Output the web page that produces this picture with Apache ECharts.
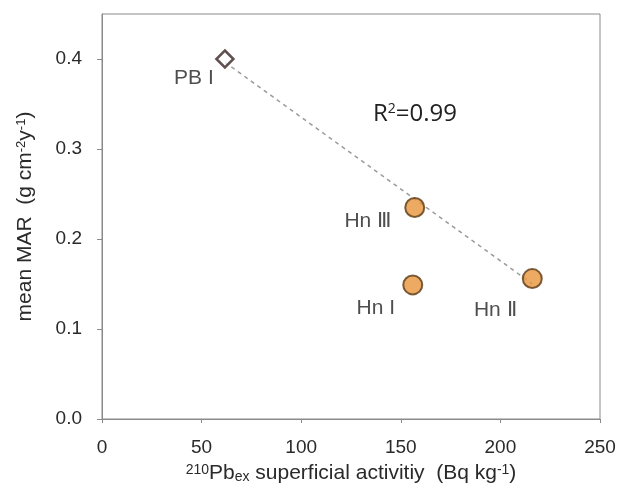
<!DOCTYPE html>
<html>
<head>
<meta charset="utf-8">
<script src="https://cdn.jsdelivr.net/npm/echarts@6/dist/echarts.min.js"></script>
<style>
  html, body { margin: 0; padding: 0; background: #fff; }
  #main { width: 620px; height: 494px; }
</style>
</head>
<body>
<div id="main"></div>
<script>
  // sites, activity (x) and mean MAR (y)
  var siteNames = ['PB I', 'Hn Ⅲ', 'Hn I', 'Hn Ⅱ'];
  var activity = [61.7, 157, 156, 216];
  var meanMAR = [0.400, 0.235, 0.149, 0.156];
  // sites used for the regression line
  var fitSites = ['PB I', 'Hn Ⅲ', 'Hn Ⅱ'];
  var r2Text = '0.99';

  var labelOffsets = {
    'PB I': [-31, 19],
    'Hn Ⅲ': [-47, 14],
    'Hn I': [-37, 23],
    'Hn Ⅱ': [-37, 32]
  };

  // least squares fit
  var fx = [], fy = [];
  siteNames.forEach(function (n, i) {
    if (fitSites.indexOf(n) >= 0) { fx.push(activity[i]); fy.push(meanMAR[i]); }
  });
  var mx = fx.reduce(function (a, b) { return a + b; }, 0) / fx.length;
  var my = fy.reduce(function (a, b) { return a + b; }, 0) / fy.length;
  var sxy = 0, sxx = 0;
  for (var i = 0; i < fx.length; i++) {
    sxy += (fx[i] - mx) * (fy[i] - my);
    sxx += (fx[i] - mx) * (fx[i] - mx);
  }
  var slope = sxy / sxx;
  var icpt = my - slope * mx;
  var x0 = Math.min.apply(null, fx), x1 = Math.max.apply(null, fx);
  var fitLine = [[x0, icpt + slope * x0], [x1, icpt + slope * x1]];

  var circleData = [], diamondData = [];
  siteNames.forEach(function (n, i) {
    var item = {
      name: n,
      value: [activity[i], meanMAR[i]],
      label: { offset: labelOffsets[n] }
    };
    if (n === 'PB I') diamondData.push(item); else circleData.push(item);
  });

  var font = 'Liberation Sans, Arial, sans-serif';
  var labelStyle = {
    show: true,
    position: 'inside',
    formatter: '{b}',
    color: '#222',
    fontSize: 21,
    fontFamily: font
  };

  var myChart = echarts.init(document.getElementById('main'));
  var option = {
    animation: false,
    grid: {
      left: 102,
      right: 20,
      top: 14,
      bottom: 75,
      show: true,
      borderColor: '#8a8a8a',
      borderWidth: 1
    },
    xAxis: {
      type: 'value',
      min: 0,
      max: 250,
      interval: 50,
      splitLine: { show: false },
      axisLine: { lineStyle: { color: '#8a8a8a' } },
      axisTick: { show: true, length: 4, lineStyle: { color: '#8a8a8a' } },
      axisLabel: { color: '#2a2a2a', fontSize: 19, margin: 19, fontFamily: font },
      name: '{sup|210}Pb{sub|ex} superficial activitiy  (Bq kg{sup|-1})',
      nameLocation: 'middle',
      nameGap: 40,
      nameTextStyle: {
        color: '#2a2a2a',
        fontSize: 21,
        fontFamily: font,
        rich: {
          sup: { fontSize: 14, verticalAlign: 'top', lineHeight: 14, color: '#2a2a2a', fontFamily: font, padding: [0, 0, 8, 0] },
          sub: { fontSize: 14, verticalAlign: 'bottom', lineHeight: 14, color: '#2a2a2a', fontFamily: font, padding: [8, 0, 0, 0] }
        }
      }
    },
    yAxis: {
      type: 'value',
      min: 0,
      max: 0.45,
      interval: 0.1,
      splitLine: { show: false },
      axisLine: { show: true, lineStyle: { color: '#8a8a8a' } },
      axisTick: { show: true, length: 5, lineStyle: { color: '#8a8a8a' } },
      axisLabel: {
        color: '#2a2a2a',
        fontSize: 19,
        margin: 20,
        showMaxLabel: false,
        fontFamily: font,
        formatter: function (v) { return v.toFixed(1); }
      },
      name: 'mean MAR  (g cm{sup|-2}y{sup|-1})',
      nameLocation: 'middle',
      nameRotate: 90,
      nameGap: 66,
      nameTextStyle: {
        color: '#2a2a2a',
        fontSize: 21,
        fontFamily: font,
        rich: {
          sup: { fontSize: 13, verticalAlign: 'top', lineHeight: 13, color: '#2a2a2a', fontFamily: font, padding: [0, 0, 8, 0] }
        }
      }
    },
    graphic: [{
      type: 'text',
      x: 415,
      y: 114,
      style: {
        text: 'R{s|2}=' + r2Text,
        fill: '#222',
        fontSize: 24,
        align: 'center',
        verticalAlign: 'middle',
        fontFamily: 'Open Sans, Liberation Sans, sans-serif',
        rich: {
          s: { fontSize: 14, verticalAlign: 'top', fill: '#222', fontFamily: 'Open Sans, sans-serif', padding: [0, 0, 10, 0] }
        }
      }
    }],
    series: [
      {
        type: 'line',
        data: fitLine,
        symbol: 'none',
        silent: true,
        z: 1,
        lineStyle: { color: '#9a9a9a', width: 1.5, type: [4, 4] }
      },
      {
        type: 'scatter',
        data: circleData,
        symbol: 'circle',
        symbolSize: 19,
        z: 3,
        itemStyle: { color: '#e8953c', borderColor: '#5b3a14', borderWidth: 2 },
        label: labelStyle
      },
      {
        type: 'scatter',
        data: diamondData,
        symbol: 'diamond',
        symbolSize: [17, 17],
        z: 3,
        itemStyle: { color: '#fff', borderColor: '#3a2424', borderWidth: 2.5 },
        label: labelStyle
      }
    ]
  };
  myChart.setOption(option);
</script>
</body>
</html>
